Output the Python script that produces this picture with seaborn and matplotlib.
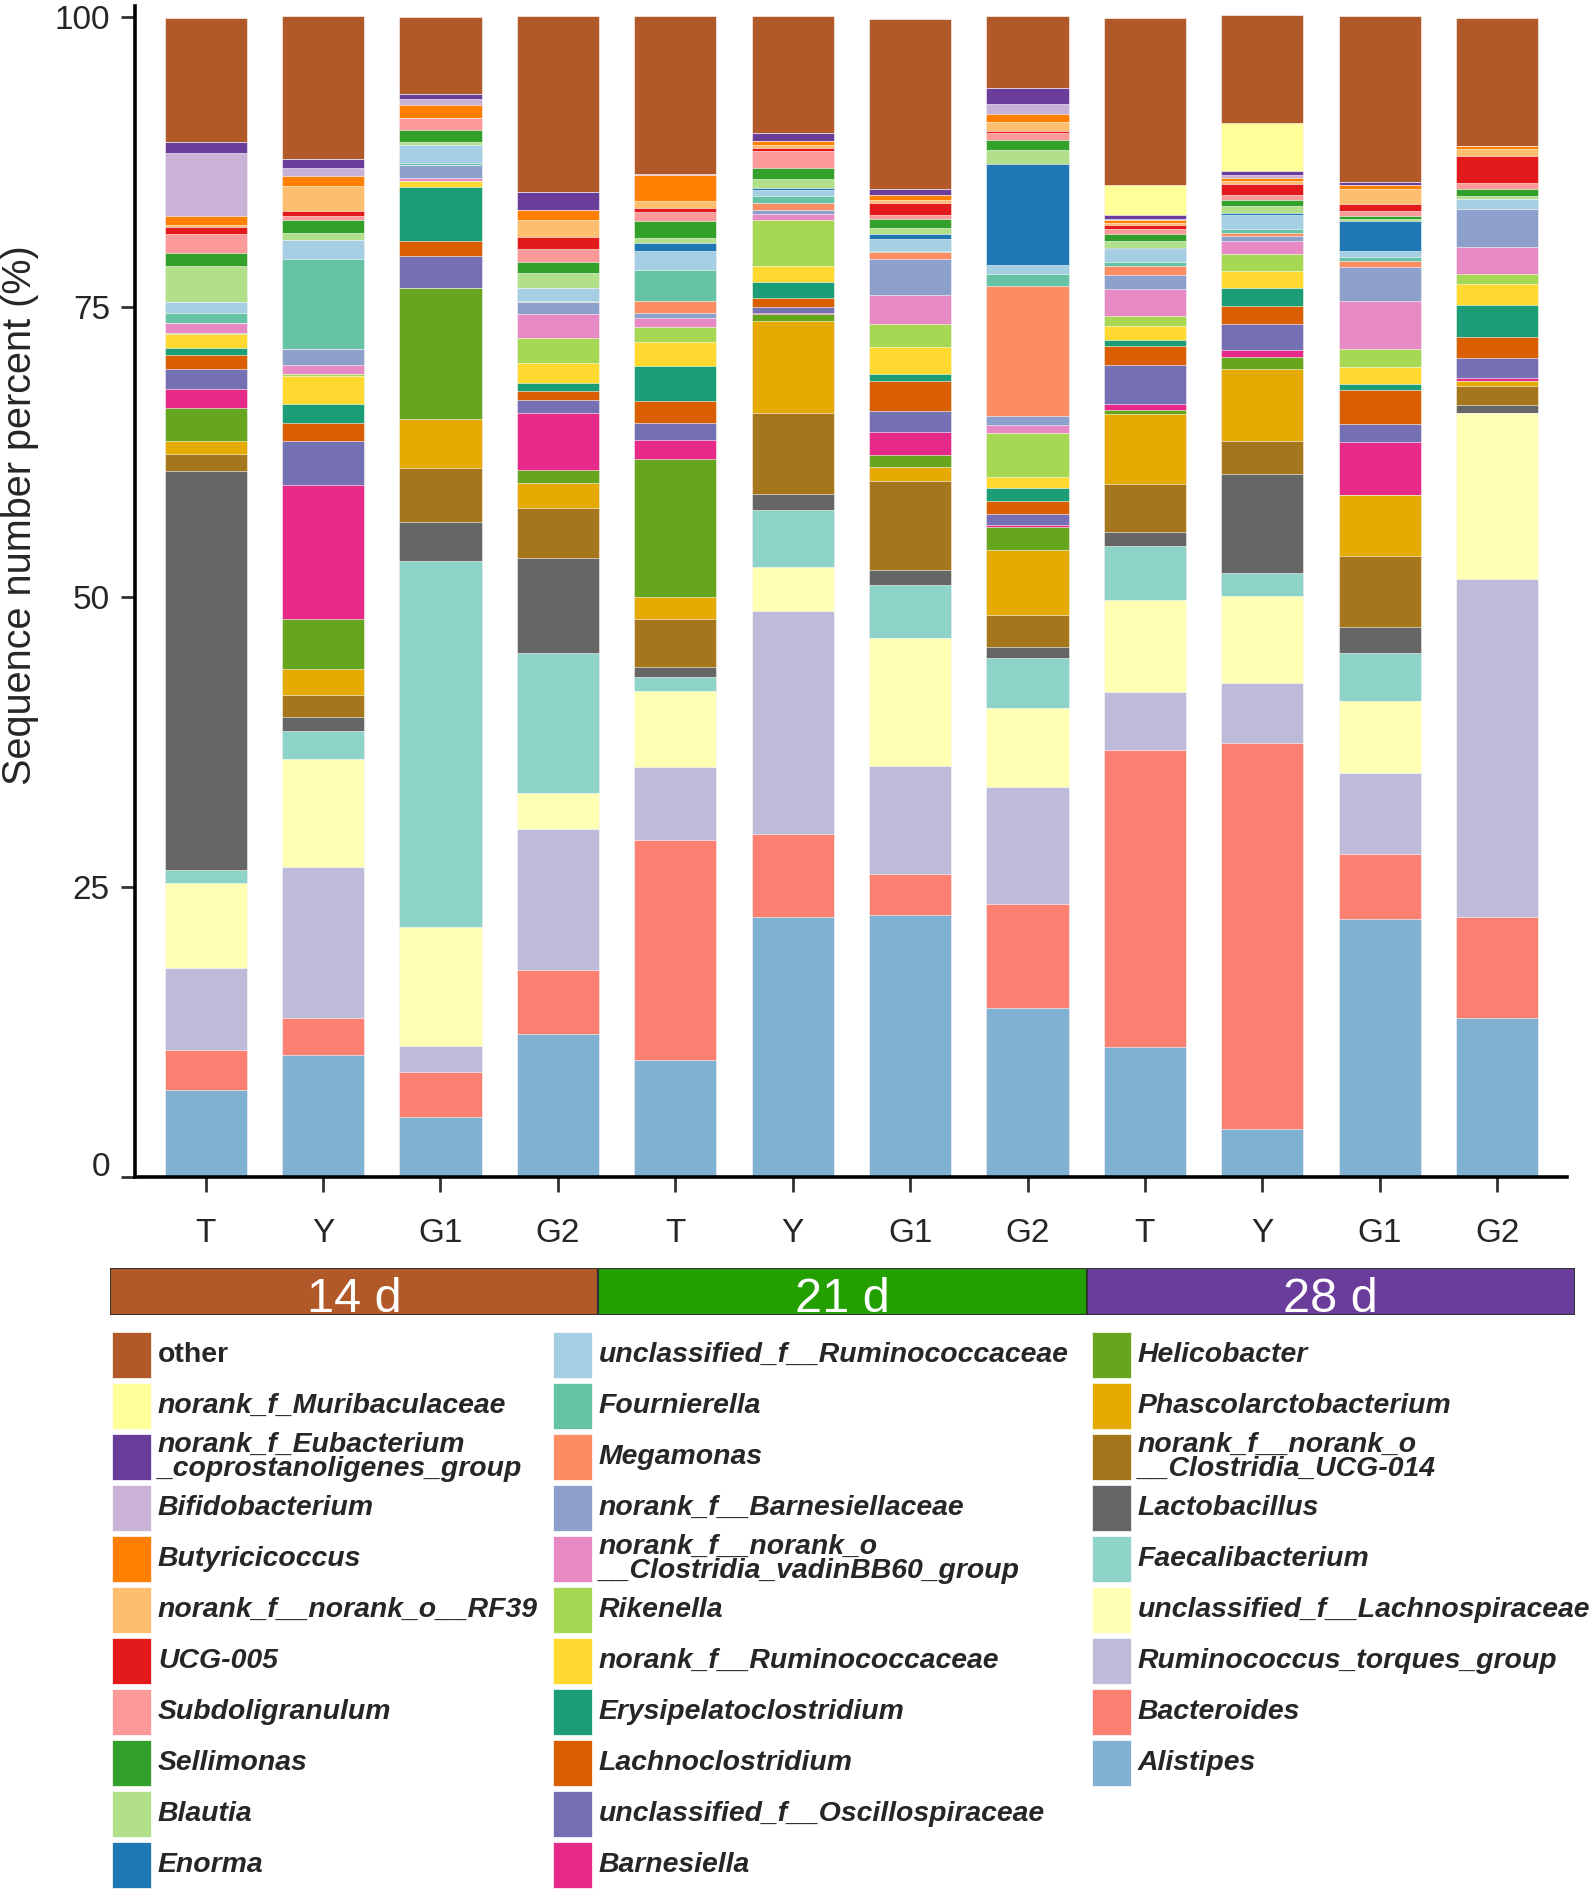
import numpy as np
import pandas as pd
import seaborn as sns
import matplotlib.pyplot as plt
import matplotlib.patches as patches
import matplotlib.transforms as mtransforms

# ----------------------------------------------------------
# Data: taxa listed from the bottom of each bar to the top
# ----------------------------------------------------------
taxa = [
    "Alistipes", "Bacteroides", "Ruminococcus_torques_group",
    "unclassified_f__Lachnospiraceae", "Faecalibacterium", "Lactobacillus",
    "norank_f__norank_o\n__Clostridia_UCG-014", "Phascolarctobacterium",
    "Helicobacter", "Barnesiella", "unclassified_f__Oscillospiraceae",
    "Lachnoclostridium", "Erysipelatoclostridium", "norank_f__Ruminococcaceae",
    "Rikenella", "norank_f__norank_o\n__Clostridia_vadinBB60_group",
    "norank_f__Barnesiellaceae", "Megamonas", "Fournierella",
    "unclassified_f__Ruminococcaceae", "Enorma", "Blautia", "Sellimonas",
    "Subdoligranulum", "UCG-005", "norank_f__norank_o__RF39", "Butyricicoccus",
    "Bifidobacterium", "norank_f_Eubacterium\n_coprostanoligenes_group",
    "norank_f_Muribaculaceae", "other",
]
taxa_colors = [
    "#80b1d3", "#fb8072", "#bebada", "#ffffb3", "#8dd3c7", "#666666",
    "#a6761d", "#e6ab02", "#66a61e", "#e7298a", "#7570b3", "#d95f02",
    "#1b9e77", "#ffd92f", "#a6d854", "#e78ac3", "#8da0cb", "#fc8d62",
    "#66c2a5", "#a6cee3", "#1f78b4", "#b2df8a", "#33a02c", "#fb9a99",
    "#e31a1c", "#fdbf6f", "#ff7f00", "#cab2d6", "#6a3d9a", "#ffff99", "#b15928",
]

# percent per taxon, same order as `taxa`
d14_T = [7.5, 3.45, 7.0, 7.4, 1.1, 34.4, 1.5, 1.1, 2.8, 1.7, 1.7, 1.2, 0.6, 1.2, 0.1, 0.9,
         0, 0, 0.8, 1.0, 0, 3.1, 1.1, 1.6, 0.6, 0.2, 0.8, 5.4, 1.0, 0, 10.7]
d14_Y = [10.5, 3.2, 12.95, 9.35, 2.4, 1.25, 1.85, 2.25, 4.35, 11.5, 3.85, 1.5, 1.65, 2.45, 0.2, 0.7,
         1.45, 0, 7.7, 1.7, 0, 0.6, 1.1, 0.3, 0.45, 2.15, 0.9, 0.65, 0.8, 0, 12.3]
d14_G1 = [5.1, 3.95, 2.2, 10.3, 31.5, 3.4, 4.65, 4.2, 11.3, 0, 2.8, 1.3, 4.65, 0.5, 0, 0.3,
          1.05, 0, 0.2, 1.6, 0, 0.25, 1.0, 1.05, 0, 0, 1.15, 0.45, 0.5, 0, 6.6]
d14_G2 = [12.3, 5.5, 12.2, 3.05, 12.1, 8.2, 4.3, 2.2, 1.1, 4.9, 1.1, 0.8, 0.7, 1.7, 2.2, 2.05,
          1.0, 0, 0.1, 1.15, 0, 1.25, 0.95, 1.1, 1.1, 1.45, 0.85, 0, 1.6, 0, 15.1]
d21_T = [10.05, 19.0, 6.25, 6.6, 1.15, 0.85, 4.15, 1.95, 11.9, 1.6, 1.5, 1.85, 3.05, 2.1, 1.25, 0.8,
         0.45, 1.0, 2.65, 1.7, 0.65, 0.4, 1.5, 0.8, 0.35, 0.6, 2.2, 0, 0.15, 0, 13.55]
d21_Y = [22.35, 7.15, 19.3, 3.75, 4.95, 1.4, 6.95, 7.95, 0.6, 0.05, 0.55, 0.8, 1.35, 1.4, 3.95, 0.55,
         0.3, 0.65, 0.55, 0.55, 0.15, 0.75, 0.95, 1.5, 0.25, 0.3, 0.35, 0, 0.65, 0, 10.05]
d21_G1 = [22.55, 3.5, 9.35, 11.05, 4.6, 1.3, 7.65, 1.15, 1.1, 1.95, 1.85, 2.55, 0.6, 2.3, 2.05, 2.45,
          3.15, 0.55, 0.1, 1.05, 0.4, 0.55, 0.8, 0.3, 1.05, 0.25, 0.45, 0, 0.55, 0, 14.65]
d21_G2 = [14.5, 9.0, 10.1, 6.8, 4.35, 0.9, 2.8, 5.55, 2.0, 0.2, 0.9, 1.2, 1.1, 0.9, 3.85, 0.65,
          0.8, 11.2, 1.0, 0.85, 8.7, 1.15, 0.9, 0.6, 0.2, 0.75, 0.7, 0.85, 1.35, 0, 6.25]
d28_T = [11.2, 25.6, 5.0, 7.9, 4.7, 1.2, 4.1, 6.05, 0.4, 0.45, 3.4, 1.65, 0.5, 1.2, 0.85, 2.3,
         1.25, 0.75, 0.4, 1.05, 0.1, 0.6, 0.65, 0.4, 0.35, 0.2, 0.25, 0.1, 0.35, 2.6, 14.35]
d28_Y = [4.1, 33.25, 5.2, 7.55, 1.95, 8.5, 2.9, 6.2, 1.0, 0.6, 2.25, 1.55, 1.55, 1.5, 1.5, 1.05,
         0.5, 0.25, 0.3, 1.2, 0.2, 0.6, 0.55, 0.4, 0.95, 0.25, 0.25, 0.25, 0.35, 4.2, 9.25]
d28_G1 = [22.25, 5.6, 6.95, 6.25, 4.1, 2.25, 6.15, 5.2, 0, 4.6, 1.55, 2.9, 0.55, 1.45, 1.6, 4.1,
          2.95, 0.5, 0.35, 0.55, 2.55, 0.2, 0.2, 0.45, 0.65, 1.3, 0.3, 0, 0.3, 0, 14.25]
d28_G2 = [13.65, 8.75, 29.15, 14.3, 0, 0.65, 1.7, 0.45, 0, 0.2, 1.75, 1.8, 2.8, 1.75, 0.85, 2.35,
          3.3, 0, 0, 0.85, 0, 0.3, 0.55, 0.55, 2.3, 0.65, 0.25, 0, 0, 0, 11.05]

groups = ["T", "Y", "G1", "G2"]
days = ["14 d", "21 d", "28 d"]
day_colors = ["#b15928", "#239f00", "#6a3d9a"]

samples = [d14_T, d14_Y, d14_G1, d14_G2, d21_T, d21_Y, d21_G1, d21_G2,
           d28_T, d28_Y, d28_G1, d28_G2]
sample_ids = [f"{d}_{g}" for d in days for g in groups]
tick_labels = [g for d in days for g in groups]

# ----------------------------------------------------------
# Figure
# ----------------------------------------------------------
sns.set_style("ticks")
plt.rcParams["font.family"] = ["Liberation Sans", "DejaVu Sans"]

df = pd.DataFrame(np.array(samples).T, index=taxa, columns=sample_ids)
cum = df.cumsum(axis=0)

fig = plt.figure(figsize=(15.94, 18.91), dpi=100)
ax = fig.add_axes([135 / 1594, 1 - 1176.5 / 1891, 1432 / 1594, 1170.5 / 1891])

# stacked bars: draw cumulative totals from the top taxon down
for i in range(len(taxa) - 1, -1, -1):
    sns.barplot(x=sample_ids, y=cum.iloc[i].values, order=sample_ids,
                color=taxa_colors[i], saturation=1, width=0.7, errorbar=None,
                edgecolor="white", linewidth=0.4, ax=ax)

ax.set_xlim(-0.602, 11.595)
ax.set_ylim(0, 100.95)
ax.set_yticks([0, 25, 50, 75, 100])
ax.set_xticks(range(len(sample_ids)))
ax.set_xticklabels(tick_labels)
ax.set_xlabel("")
ax.set_ylabel("Sequence number percent (%)", fontsize=28.5, va="center")
ax.yaxis.set_label_coords(-115 / 1432, (1176.5 - 515) / 1170.5)
sns.despine(ax=ax)
for side in ["left", "bottom"]:
    ax.spines[side].set_linewidth(2.6)
    ax.spines[side].set_color("black")
ax.tick_params(axis="x", length=11, width=2, pad=19, labelsize=24, color="#333333")
ax.tick_params(axis="y", length=10, width=2, pad=8, labelsize=24, color="#333333")

# the "0" label sits a little above its tick
zero_label = ax.yaxis.get_major_ticks()[0].label1
zero_label.set_transform(zero_label.get_transform()
                         + mtransforms.ScaledTranslation(0, 0.12, fig.dpi_scale_trans))

# day group bar under the x labels
gax = fig.add_axes([110 / 1594, 1 - 1315 / 1891, 1465 / 1594, 47 / 1891])
sns.barplot(x=days, y=[1, 1, 1], hue=days, palette=day_colors, legend=False,
            saturation=1, width=1, edgecolor="#333333", linewidth=1.5, ax=gax)
gax.set_xlim(-0.5, 2.5)
gax.set_ylim(0, 1)
gax.axis("off")
for i, d in enumerate(days):
    gax.text(i, 0.06, d, color="white", fontsize=35, ha="center", va="baseline")

# legend drawn as a grid, top taxon first, 11 rows per column
lax = fig.add_axes([0, 0, 1, 1])
lax.set_xlim(0, 1594)
lax.set_ylim(1891, 0)
lax.axis("off")
order = list(range(len(taxa) - 1, -1, -1))
columns = [order[:11], order[11:22], order[22:]]
col_x = [112, 553, 1092]
for c, idxs in enumerate(columns):
    for r, i in enumerate(idxs):
        yc = 1355 + 51 * r
        lax.add_patch(patches.Rectangle((col_x[c], yc - 23), 39, 46,
                                        facecolor=taxa_colors[i], edgecolor="white", lw=0.5))
        style = "normal" if taxa[i] == "other" else "italic"
        lax.text(col_x[c] + 46, yc, taxa[i], fontsize=20.4, fontweight="bold",
                 fontstyle=style, va="center", ha="left", linespacing=0.88)

fig.savefig("out.png", dpi=100)
